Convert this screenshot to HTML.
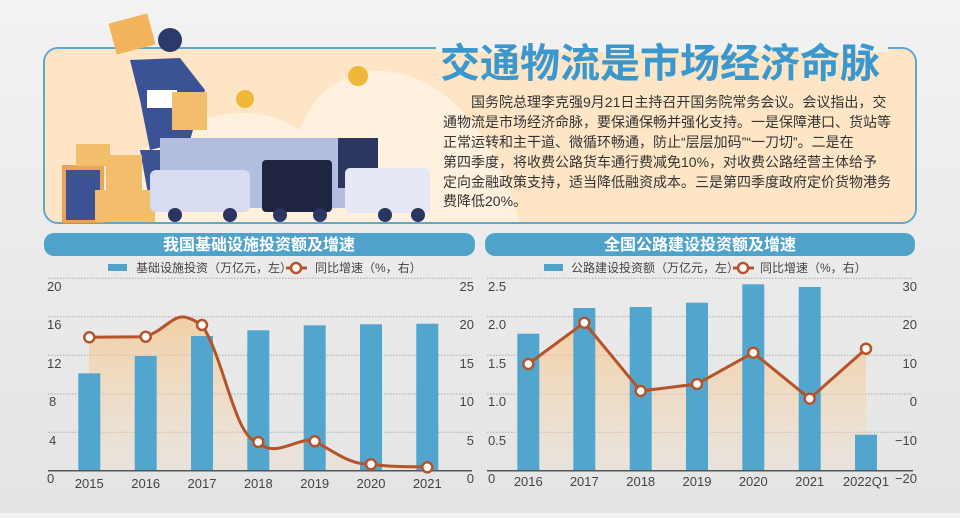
<!DOCTYPE html>
<html><head><meta charset="utf-8"><style>
body{margin:0;width:960px;height:513px;overflow:hidden;background:linear-gradient(#f2f2f2,#e4e4e4);font-family:"Liberation Sans","Noto Sans CJK SC",sans-serif;}
svg text{font-family:"Liberation Sans","Noto Sans CJK SC",sans-serif;}
</style></head><body>
<svg width="960" height="513" viewBox="0 0 960 513" xmlns="http://www.w3.org/2000/svg">
<defs>
<linearGradient id="fa" x1="0" y1="0" x2="0" y2="1"><stop offset="0" stop-color="#f5c78e" stop-opacity="0.75"/><stop offset="1" stop-color="#f5d9b8" stop-opacity="0.2"/></linearGradient>
</defs>
<!-- top panel -->
<rect x="44" y="48" width="872" height="175" rx="14" fill="#fde5c6" stroke="#5ea9c9" stroke-width="2"/>
<path d="M70 222 C150 120 240 90 300 130 C330 40 470 40 520 222Z" fill="#fff1de"/>
<rect x="436" y="44" width="452" height="8" fill="#f1f1f1"/>
<text x="660" y="77" text-anchor="middle" font-size="40" font-weight="bold" fill="#3b98cf" style="font-family:'Noto Sans CJK SC',sans-serif">交通物流是市场经济命脉</text>
<g font-size="14" fill="#333" style="font-family:'Noto Sans CJK SC',sans-serif">
<text x="471" y="107">国务院总理李克强9月21日主持召开国务院常务会议。会议指出，交</text>
<text x="443" y="127">通物流是市场经济命脉，要保通保畅并强化支持。一是保障港口、货站等</text>
<text x="443" y="147">正常运转和主干道、微循环畅通，防止“层层加码”“一刀切”。二是在</text>
<text x="443" y="167">第四季度，将收费公路货车通行费减免10%，对收费公路经营主体给予</text>
<text x="443" y="187">定向金融政策支持，适当降低融资成本。三是第四季度政府定价货物港务</text>
<text x="443" y="206">费降低20%。</text>
</g>
<!-- illustration -->
<rect x="112" y="18" width="40" height="32" fill="#f2b35a" transform="rotate(-15 132 34)"/>
<circle cx="170" cy="40" r="12" fill="#2c3a6a"/>
<path d="M130 60 L180 58 L205 90 L190 140 L150 150 L140 100Z" fill="#3b5394"/>
<rect x="147" y="90" width="30" height="18" fill="#fff"/>
<rect x="172" y="92" width="35" height="38" fill="#f2be6c"/>
<path d="M140 150 L180 150 L170 205 L150 205Z" fill="#3b5394"/>
<rect x="62" y="165" width="42" height="58" fill="#e6a55a"/><rect x="66" y="170" width="34" height="50" fill="#3b5394"/>
<rect x="76" y="144" width="34" height="22" fill="#f2be6c"/>
<rect x="106" y="155" width="36" height="38" fill="#f2be6c"/>
<rect x="95" y="190" width="60" height="32" fill="#f2be6c"/>
<rect x="160" y="138" width="190" height="70" fill="#b3bde0"/>
<rect x="338" y="138" width="40" height="50" fill="#2b3560"/>
<rect x="150" y="170" width="100" height="42" rx="6" fill="#d8dcf0"/>
<rect x="262" y="160" width="70" height="52" rx="4" fill="#1f2440"/>
<rect x="345" y="168" width="85" height="45" rx="5" fill="#e6e9f5"/>
<circle cx="175" cy="215" r="7" fill="#2b3560"/><circle cx="230" cy="215" r="7" fill="#2b3560"/>
<circle cx="280" cy="215" r="7" fill="#2b3560"/><circle cx="320" cy="215" r="7" fill="#2b3560"/>
<circle cx="385" cy="215" r="7" fill="#2b3560"/><circle cx="418" cy="215" r="7" fill="#2b3560"/>
<path d="M245 108 a9 9 0 1 1 0.1 0 L245 125Z" fill="#f0b83a"/>
<path d="M358 86 a10 10 0 1 1 0.1 0 L358 108Z" fill="#f0b83a"/>

<!-- LEFT CHART -->
<rect x="44" y="233" width="431" height="23" rx="10" fill="#4fa3cb"/>
<text x="259" y="250" text-anchor="middle" font-size="16" font-weight="bold" fill="#fff">我国基础设施投资额及增速</text>
<rect x="108" y="264" width="19" height="7" fill="#4fa3cb"/>
<text x="136" y="272" font-size="12" fill="#444">基础设施投资（万亿元，左）</text>
<line x1="286" y1="268" x2="307" y2="268" stroke="#b5532a" stroke-width="3"/><circle cx="296" cy="268" r="5" fill="#fff" stroke="#b5532a" stroke-width="2.5"/>
<text x="315" y="272" font-size="12" fill="#444">同比增速（%，右）</text>
<g stroke="#aaa" stroke-dasharray="1.5 1.5" stroke-width="1">
<line x1="48" y1="278.3" x2="472" y2="278.3"/><line x1="48" y1="316.7" x2="472" y2="316.7"/><line x1="48" y1="355.3" x2="472" y2="355.3"/><line x1="48" y1="394" x2="472" y2="394"/><line x1="48" y1="432.3" x2="472" y2="432.3"/>
</g>
<path d="M89 337.3 C110 337 130 337 145.7 336.7 C165 330 175 312 188 318 C196 320 200 325 202 325 C225 360 235 440 258.3 442 C275 460 300 435 314.7 441.3 C335 452 350 465 371 464.3 C400 468 415 466 427.3 467.3 L427.3 470.7 L89 470.7Z" fill="url(#fa)"/>
<g fill="#52a6cd">
<rect x="78.3" y="373.3" width="22" height="97.4"/><rect x="134.7" y="356" width="22" height="114.7"/><rect x="191" y="336" width="22" height="134.7"/><rect x="247.3" y="330.3" width="22" height="140.4"/><rect x="303.7" y="325.3" width="22" height="145.4"/><rect x="360" y="324.3" width="22" height="146.4"/><rect x="416.3" y="323.7" width="22" height="147"/>
</g>
<line x1="48" y1="470.7" x2="472" y2="470.7" stroke="#555" stroke-width="1.5"/>
<path d="M89.3 337.3 C110 337 130 337 145.7 336.7 C165 330 175 312 188 318 C196 320 200 325 202 325 C225 360 235 440 258.3 442 C275 460 300 435 314.7 441.3 C335 452 350 465 371 464.3 C400 468 415 466 427.3 467.3" fill="none" stroke="#b5532a" stroke-width="3"/>
<g fill="#fff" stroke="#b5532a" stroke-width="2.5">
<circle cx="89.3" cy="337.3" r="5"/><circle cx="145.7" cy="336.7" r="5"/><circle cx="202" cy="325" r="5"/><circle cx="258.3" cy="442" r="5"/><circle cx="314.7" cy="441.3" r="5"/><circle cx="371" cy="464.3" r="5"/><circle cx="427.3" cy="467.3" r="5"/>
</g>
<g font-size="13" fill="#444">
<text x="47" y="291">20</text><text x="47" y="329">16</text><text x="47" y="368">12</text><text x="49" y="406">8</text><text x="49" y="445">4</text><text x="47" y="483">0</text>
</g>
<g font-size="13" fill="#444" text-anchor="end">
<text x="474" y="291">25</text><text x="474" y="329">20</text><text x="474" y="368">15</text><text x="474" y="406">10</text><text x="474" y="445">5</text><text x="474" y="483">0</text>
</g>
<g font-size="13" fill="#444" text-anchor="middle">
<text x="89.3" y="488">2015</text><text x="145.7" y="488">2016</text><text x="202" y="488">2017</text><text x="258.3" y="488">2018</text><text x="314.7" y="488">2019</text><text x="371" y="488">2020</text><text x="427.3" y="488">2021</text>
</g>

<!-- RIGHT CHART -->
<rect x="485" y="233" width="430" height="23" rx="10" fill="#4fa3cb"/>
<text x="700" y="250" text-anchor="middle" font-size="16" font-weight="bold" fill="#fff">全国公路建设投资额及增速</text>
<rect x="544" y="264" width="19" height="7" fill="#4fa3cb"/>
<text x="571" y="272" font-size="12" fill="#444">公路建设投资额（万亿元，左）</text>
<line x1="733" y1="268" x2="754" y2="268" stroke="#b5532a" stroke-width="3"/><circle cx="743" cy="268" r="5" fill="#fff" stroke="#b5532a" stroke-width="2.5"/>
<text x="760" y="272" font-size="12" fill="#444">同比增速（%，右）</text>
<g stroke="#aaa" stroke-dasharray="1.5 1.5" stroke-width="1">
<line x1="487" y1="278.3" x2="913" y2="278.3"/><line x1="487" y1="316.7" x2="913" y2="316.7"/><line x1="487" y1="355.3" x2="913" y2="355.3"/><line x1="487" y1="394" x2="913" y2="394"/><line x1="487" y1="432.3" x2="913" y2="432.3"/>
</g>
<path d="M528.3 364 L584.3 322.7 L640.7 391 L697 384 L753.3 352.7 L809.7 398.7 L866 348.7 L866 470.7 L528.3 470.7Z" fill="url(#fa)"/>
<g fill="#52a6cd">
<rect x="517.3" y="333.7" width="22" height="137"/><rect x="573.3" y="308" width="22" height="162.7"/><rect x="629.7" y="307" width="22" height="163.7"/><rect x="686" y="302.7" width="22" height="168"/><rect x="742.3" y="284.3" width="22" height="186.4"/><rect x="798.7" y="287" width="22" height="183.7"/><rect x="855" y="434.7" width="22" height="36"/>
</g>
<line x1="487" y1="470.7" x2="913" y2="470.7" stroke="#555" stroke-width="1.5"/>
<polyline points="528.3,364 584.3,322.7 640.7,391 697,384 753.3,352.7 809.7,398.7 866,348.7" fill="none" stroke="#b5532a" stroke-width="3"/>
<g fill="#fff" stroke="#b5532a" stroke-width="2.5">
<circle cx="528.3" cy="364" r="5"/><circle cx="584.3" cy="322.7" r="5"/><circle cx="640.7" cy="391" r="5"/><circle cx="697" cy="384" r="5"/><circle cx="753.3" cy="352.7" r="5"/><circle cx="809.7" cy="398.7" r="5"/><circle cx="866" cy="348.7" r="5"/>
</g>
<g font-size="13" fill="#444">
<text x="488" y="291">2.5</text><text x="488" y="329">2.0</text><text x="488" y="368">1.5</text><text x="488" y="406">1.0</text><text x="488" y="445">0.5</text><text x="488" y="483">0</text>
</g>
<g font-size="13" fill="#444" text-anchor="end">
<text x="917" y="291">30</text><text x="917" y="329">20</text><text x="917" y="368">10</text><text x="917" y="406">0</text><text x="917" y="445">−10</text><text x="917" y="483">−20</text>
</g>
<g font-size="13" fill="#444" text-anchor="middle">
<text x="528.3" y="486">2016</text><text x="584.3" y="486">2017</text><text x="640.7" y="486">2018</text><text x="697" y="486">2019</text><text x="753.3" y="486">2020</text><text x="809.7" y="486">2021</text><text x="866" y="486">2022Q1</text>
</g>
</svg>
</body></html>
